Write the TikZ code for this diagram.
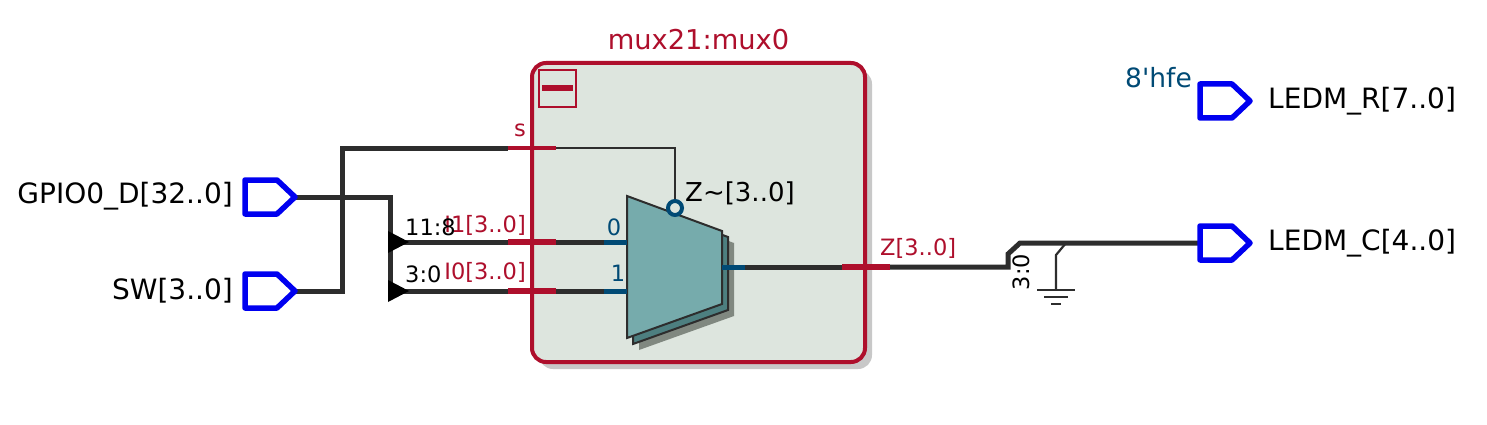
\documentclass[tikz,border=0pt]{standalone}
\usepackage{fontspec}
\setmainfont{DejaVu Sans}
\definecolor{wire}{HTML}{2D2D2D}
\definecolor{pinred}{HTML}{AE0F2C}
\definecolor{boxfill}{HTML}{DDE5DE}
\definecolor{muxfill}{HTML}{76ABAC}
\definecolor{muxback}{HTML}{4D7F80}
\definecolor{muxshadow}{HTML}{808880}
\definecolor{blockshadow}{HTML}{C8C8C8}
\definecolor{dkblue}{HTML}{004A75}
\definecolor{portblue}{HTML}{0000F0}
\newcommand{\fs}[1]{\fontsize{#1}{#1}\selectfont}
\tikzset{
  bus/.style={draw=wire,line width=5pt,line join=miter},
  thinw/.style={draw=wire,line width=2.2pt},
  pinw/.style={draw=pinred,line width=4pt},
  pinb/.style={draw=pinred,line width=6.5pt},
  stub/.style={draw=dkblue,line width=5pt},
  portshape/.style={draw=portblue,line width=5.5pt,line join=round,fill=white},
  big/.style={font=\fs{28},text=black,inner sep=0pt},
  mid/.style={font=\fs{22.5},text=black,inner sep=0pt},
  redl/.style={font=\fs{22.5},text=pinred,inner sep=0pt},
  bluel/.style={font=\fs{22.5},text=dkblue,inner sep=0pt},
  port/.pic={\path[portshape] (-50,-17) -- (-18,-17) -- (0,0) -- (-18,17) -- (-50,17) -- cycle;}
}
\begin{document}
\begin{tikzpicture}[x=1pt,y=-1pt]
\useasboundingbox[fill=white] (0,0) rectangle (1487,425);
% block
\fill[blockshadow,rounded corners=14pt] (539,70) rectangle (872,369);
\draw[draw=pinred,line width=4pt,fill=boxfill,rounded corners=14pt] (532,63) rectangle (865,362);
\draw[draw=pinred,line width=2pt] (539,70) rectangle (576,107);
\draw[draw=pinred,line width=5.5pt] (542,88) -- (573,88);
\node[font=\fs{27.3},text=pinred,inner sep=0pt] (title) at (698.5,40) {mux21:mux0};
% anchors
\coordinate (gpio) at (295,197);
\coordinate (sw) at (295,291);
\coordinate (ledr) at (1250,101);
\coordinate (ledc) at (1250,243);
\coordinate (sJ) at (342,148);
\coordinate (sPinL) at (508,148);
\coordinate (sPinR) at (556,148);
\coordinate (selTop) at (675,148);
\coordinate (gJ) at (390,197);
\coordinate (i1T) at (390,242);
\coordinate (i0T) at (390,291);
\coordinate (i1L) at (508,242);
\coordinate (i1R) at (556,242);
\coordinate (i0L) at (508,291);
\coordinate (i0R) at (556,291);
\coordinate (i1M) at (604,242);
\coordinate (i0M) at (604,291);
\coordinate (i1E) at (627,242);
\coordinate (i0E) at (627,291);
\coordinate (oE) at (722,267);
\coordinate (oM) at (745,267);
\coordinate (oL) at (842,267);
\coordinate (oR) at (890,267);
\coordinate (sA) at (1008,267);
\coordinate (sB) at (1008,254);
\coordinate (sC) at (1020,243);
\coordinate (ledcIn) at (1199,243);
\coordinate (gA) at (1066,243);
\coordinate (gB) at (1056,255);
\coordinate (gC) at (1056,290);
% mux
\fill[muxshadow] (639,208) -- (734,243) -- (734,316) -- (639,350) -- cycle;
\draw[draw=wire,line width=2pt,fill=muxback] (633,202) -- (728,237) -- (728,310) -- (633,344) -- cycle;
\draw[draw=wire,line width=2pt,fill=muxfill,line join=miter] (627,196) -- (722,231) -- (722,304) -- (627,338) -- cycle;
% wires
\draw[bus] (sw) -- (sw -| sJ) -- (sJ) -- (sPinL);
\draw[bus] (gpio) -- (gJ) -- (i0T);
\draw[bus] (i1T) -- (i1L);
\draw[bus] (i0T) -- (i0L);
\fill[black] (388,231) -- (409,242) -- (388,253) -- cycle;
\fill[black] (388,280) -- (409,291) -- (388,302) -- cycle;
\draw[pinw] (sPinL) -- (sPinR);
\draw[pinb] (i1L) -- (i1R);
\draw[pinb] (i0L) -- (i0R);
\draw[thinw] (sPinR) -- (selTop) -- (675,200);
\draw[bus] (i1R) -- (i1M);
\draw[bus] (i0R) -- (i0M);
\draw[stub] (i1M) -- (i1E);
\draw[stub] (i0M) -- (i0E);
\draw[stub] (oE) -- (oM);
\draw[bus] (oM) -- (oL);
\draw[pinb] (oL) -- (oR);
\draw[bus] (oR) -- (sA) -- (sB) -- (sC) -- (ledcIn);
\draw[thinw] (gA) -- (gB) -- (gC);
\draw[thinw] (1037,290) -- (1075,290);
\draw[thinw] (1044,297) -- (1068,297);
\draw[thinw] (1051,304) -- (1061,304);
\draw[draw=dkblue,line width=4pt,fill=boxfill] (675,208) circle (7);
% ports
\pic at (gpio) {port};
\pic at (sw) {port};
\pic at (ledr) {port};
\pic at (ledc) {port};
% labels
\node[big,anchor=east] (lgpio) at (233,196) {GPIO0\_D[32..0]};
\node[big,anchor=east] (lsw) at (233,291) {SW[3..0]};
\node[big,anchor=west] (lledr) at (1268,101) {LEDM\_R[7..0]};
\node[big,anchor=west] (lledc) at (1268,243) {LEDM\_C[4..0]};
\node[font=\fs{26.5},text=dkblue,inner sep=0pt,anchor=east] (lhfe) at (1192,78) {8\textquotesingle hfe};
\node[font=\fs{26},text=black,inner sep=0pt,anchor=west] (lz) at (685,193) {Z\textasciitilde[3..0]};
\node[redl] (ls) at (520,130) {s};
\node[redl,anchor=east] (li1) at (526,225) {I1[3..0]};
\node[redl,anchor=east] (li0) at (526,272) {I0[3..0]};
\node[redl,anchor=west] (lzo) at (880,248) {Z[3..0]};
\node[mid,anchor=west] (l118) at (405,227) {11:8};
\node[mid,anchor=west] (l30) at (405,274) {3:0};
\node[bluel] (l0) at (614,227) {0};
\node[bluel] (l1) at (618,273) {1};
\node[mid,rotate=90] (l30b) at (1021,272) {3:0};
\end{tikzpicture}
\end{document}
